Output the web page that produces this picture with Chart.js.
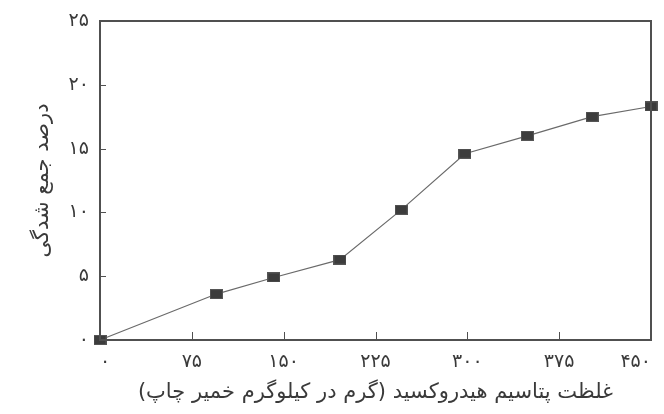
<!DOCTYPE html>
<html lang="fa">
<head>
<meta charset="utf-8">
<script src="https://cdn.jsdelivr.net/npm/chart.js@4.4.1/dist/chart.umd.min.js"></script>
<style>
  html, body { margin: 0; padding: 0; background: #fff; }
  #wrap { width: 664px; height: 414px; position: relative; }
</style>
</head>
<body>
<div id="wrap"><canvas id="chart"></canvas></div>
<script>
// KOH concentration (g per kg of printing paste) and shrinkage percentage
const kohConcentration = [0, 95, 142, 196, 246, 298, 349, 402, 450];
const shrinkagePercent = [0, 3.6, 4.9, 6.3, 10.2, 14.6, 16.0, 17.5, 18.3];

// Axis ticks
const xTickValues = [0, 75, 150, 225, 300, 375, 450];
const yTickValues = [0, 5, 10, 15, 20, 25];

// Axis titles
const xAxisTitle = 'غلظت پتاسیم هیدروکسید (گرم در کیلوگرم خمیر چاپ)';
const yAxisTitle = 'درصد جمع شدگی';

const FONT = '"DejaVu Sans", sans-serif';
const INK = '#3a3a3a';
const AXIS = '#505050';

// Persian digits for tick labels
function toPersianDigits(n) {
  return String(n).replace(/\d/g, d => '۰۱۲۳۴۵۶۷۸۹'[+d]);
}

// Small filled rectangle used as the point marker
function makeMarker() {
  const c = document.createElement('canvas');
  c.width = 13; c.height = 10;
  const g = c.getContext('2d');
  g.fillStyle = '#3c3c3c';
  g.fillRect(0, 0, 13, 10);
  g.strokeStyle = '#555';
  g.lineWidth = 1;
  g.strokeRect(0.5, 0.5, 12, 9);
  return c;
}

// Frame around the plot area plus short inward tick marks
const framePlugin = {
  id: 'frame',
  afterDatasetsDraw(chart) {
    const { ctx, chartArea: a, scales } = chart;
    ctx.save();
    ctx.strokeStyle = AXIS;
    ctx.lineWidth = 1;
    ctx.beginPath();
    scales.x.ticks.forEach(t => {
      if (t.value === xTickValues[0] || t.value === xTickValues[xTickValues.length - 1]) return;
      const px = Math.round(scales.x.getPixelForValue(t.value)) + 0.5;
      ctx.moveTo(px, a.bottom);
      ctx.lineTo(px, a.bottom - 8);
    });
    scales.y.ticks.forEach(t => {
      if (t.value === yTickValues[0] || t.value === yTickValues[yTickValues.length - 1]) return;
      const py = Math.round(scales.y.getPixelForValue(t.value)) + 0.5;
      ctx.moveTo(a.left, py);
      ctx.lineTo(a.left + 6, py);
    });
    ctx.stroke();
    ctx.lineWidth = 2;
    ctx.strokeRect(a.left, a.top, a.right - a.left, a.bottom - a.top);
    ctx.restore();
  }
};

new Chart(document.getElementById('chart'), {
  type: 'line',
  data: {
    datasets: [{
      data: kohConcentration.map((x, i) => ({ x, y: shrinkagePercent[i] })),
      borderColor: '#6a6a6a',
      borderWidth: 1.2,
      pointStyle: makeMarker(),
      pointRadius: 6,
      pointHoverRadius: 6,
      tension: 0,
      clip: false,
      fill: false
    }]
  },
  options: {
    responsive: true,
    maintainAspectRatio: false,
    animation: false,
    devicePixelRatio: 1,
    layout: { padding: { top: 21, right: 13, left: 0, bottom: 0 } },
    plugins: {
      legend: { display: false },
      tooltip: { enabled: false }
    },
    scales: {
      x: {
        type: 'linear',
        min: 0,
        max: 450,
        afterBuildTicks(scale) { scale.ticks = xTickValues.map(v => ({ value: v })); },
        afterFit(scale) { scale.height = 74; scale.paddingLeft = 0; scale.paddingRight = 0; },
        grid: { display: false, drawTicks: false },
        border: { display: false },
        ticks: {
          align: 'inner',
          padding: 11,
          color: INK,
          font: { family: FONT, size: 19 },
          callback: v => toPersianDigits(v)
        },
        title: {
          display: true,
          text: xAxisTitle,
          color: INK,
          font: { family: FONT, size: 21 },
          padding: { top: 0, bottom: 9 }
        }
      },
      y: {
        type: 'linear',
        min: 0,
        max: 25,
        afterBuildTicks(scale) { scale.ticks = yTickValues.map(v => ({ value: v })); },
        afterFit(scale) { scale.width = 100; scale.paddingTop = 0; scale.paddingBottom = 0; },
        grid: { display: false, drawTicks: false },
        border: { display: false },
        ticks: {
          padding: 11,
          color: INK,
          font: { family: FONT, size: 19 },
          callback: v => toPersianDigits(v)
        },
        title: {
          display: true,
          text: yAxisTitle,
          color: INK,
          font: { family: FONT, size: 21 },
          padding: { top: 30, bottom: 0 }
        }
      }
    }
  },
  plugins: [framePlugin]
});
</script>
</body>
</html>
